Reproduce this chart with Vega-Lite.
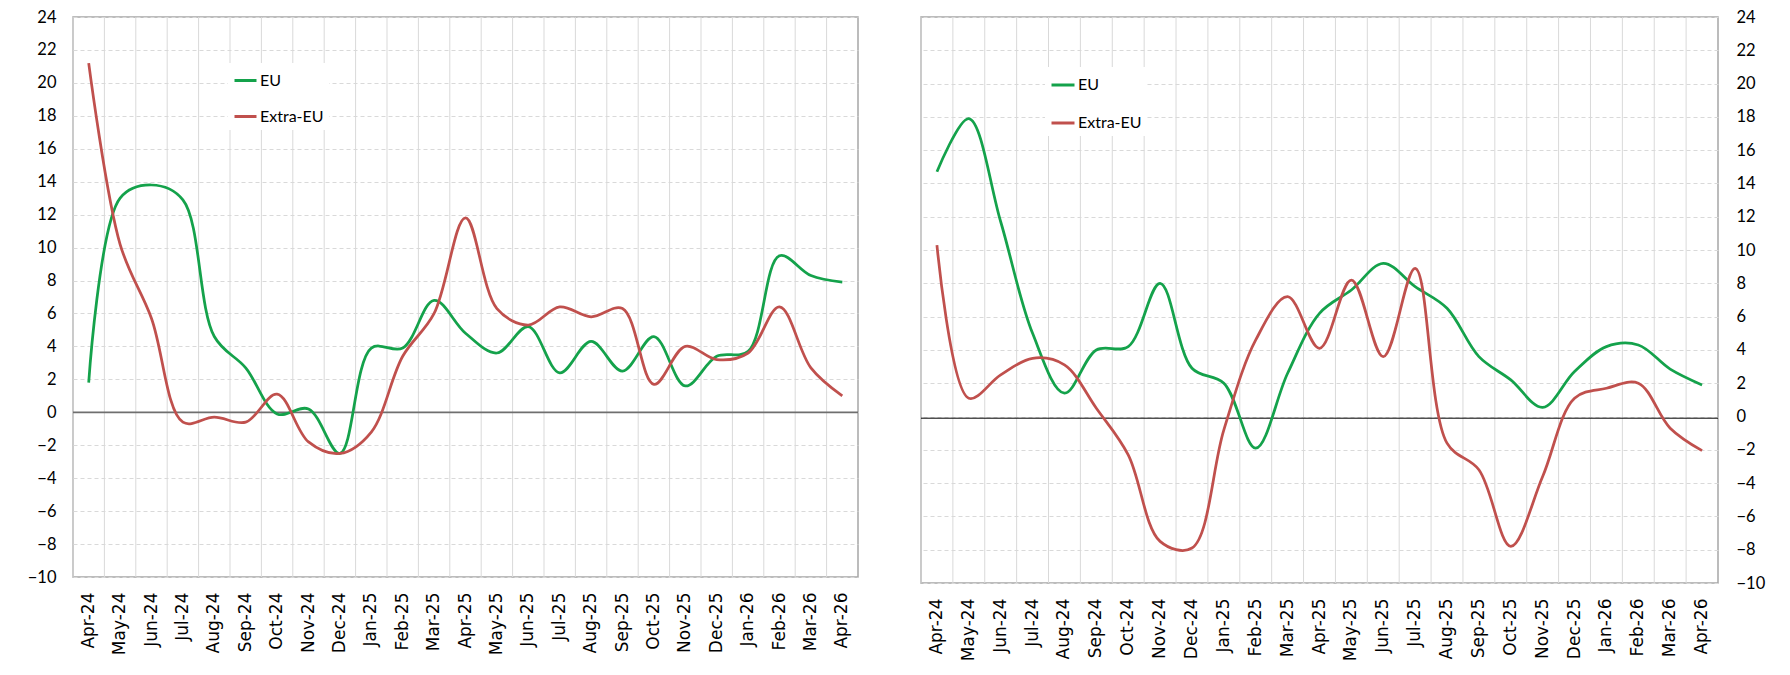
{
  "$schema": "https://vega.github.io/schema/vega-lite/v6.json",
  "background": "white",
  "padding": {"left": 26, "top": 8, "right": 0, "bottom": 0},
  "spacing": 59,
  "config": {
    "view": {"stroke": "#a6a6a6", "strokeWidth": 1.5},
    "axis": {"labelColor": "#000000", "title": null, "ticks": false, "domain": false, "labelOverlap": false},
    "legend": {"labelColor": "#000000"}
  },
  "datasets": {
    "left": [
      {"month": "Apr-24", "series": "EU", "value": 1.8}, {"month": "Apr-24", "series": "Extra-EU", "value": 21.2},
      {"month": "May-24", "series": "EU", "value": 13.0}, {"month": "May-24", "series": "Extra-EU", "value": 10.2},
      {"month": "Jun-24", "series": "EU", "value": 13.8}, {"month": "Jun-24", "series": "Extra-EU", "value": 5.7},
      {"month": "Jul-24", "series": "EU", "value": 12.9}, {"month": "Jul-24", "series": "Extra-EU", "value": -0.6},
      {"month": "Aug-24", "series": "EU", "value": 4.6}, {"month": "Aug-24", "series": "Extra-EU", "value": -0.3},
      {"month": "Sep-24", "series": "EU", "value": 2.7}, {"month": "Sep-24", "series": "Extra-EU", "value": -0.6},
      {"month": "Oct-24", "series": "EU", "value": -0.1}, {"month": "Oct-24", "series": "Extra-EU", "value": 1.1},
      {"month": "Nov-24", "series": "EU", "value": 0.2}, {"month": "Nov-24", "series": "Extra-EU", "value": -1.8},
      {"month": "Dec-24", "series": "EU", "value": -2.5}, {"month": "Dec-24", "series": "Extra-EU", "value": -2.5},
      {"month": "Jan-25", "series": "EU", "value": 3.9}, {"month": "Jan-25", "series": "Extra-EU", "value": -1.2},
      {"month": "Feb-25", "series": "EU", "value": 3.9}, {"month": "Feb-25", "series": "Extra-EU", "value": 3.4},
      {"month": "Mar-25", "series": "EU", "value": 6.8}, {"month": "Mar-25", "series": "Extra-EU", "value": 6.0},
      {"month": "Apr-25", "series": "EU", "value": 4.8}, {"month": "Apr-25", "series": "Extra-EU", "value": 11.8},
      {"month": "May-25", "series": "EU", "value": 3.6}, {"month": "May-25", "series": "Extra-EU", "value": 6.3},
      {"month": "Jun-25", "series": "EU", "value": 5.2}, {"month": "Jun-25", "series": "Extra-EU", "value": 5.3},
      {"month": "Jul-25", "series": "EU", "value": 2.4}, {"month": "Jul-25", "series": "Extra-EU", "value": 6.4},
      {"month": "Aug-25", "series": "EU", "value": 4.3}, {"month": "Aug-25", "series": "Extra-EU", "value": 5.8},
      {"month": "Sep-25", "series": "EU", "value": 2.5}, {"month": "Sep-25", "series": "Extra-EU", "value": 6.3},
      {"month": "Oct-25", "series": "EU", "value": 4.6}, {"month": "Oct-25", "series": "Extra-EU", "value": 1.7},
      {"month": "Nov-25", "series": "EU", "value": 1.6}, {"month": "Nov-25", "series": "Extra-EU", "value": 4.0},
      {"month": "Dec-25", "series": "EU", "value": 3.4}, {"month": "Dec-25", "series": "Extra-EU", "value": 3.2},
      {"month": "Jan-26", "series": "EU", "value": 3.7}, {"month": "Jan-26", "series": "Extra-EU", "value": 3.6},
      {"month": "Feb-26", "series": "EU", "value": 9.5}, {"month": "Feb-26", "series": "Extra-EU", "value": 6.4},
      {"month": "Mar-26", "series": "EU", "value": 8.3}, {"month": "Mar-26", "series": "Extra-EU", "value": 2.7},
      {"month": "Apr-26", "series": "EU", "value": 7.9}, {"month": "Apr-26", "series": "Extra-EU", "value": 1.0}
    ],
    "right": [
      {"month": "Apr-24", "series": "EU", "value": 14.7}, {"month": "Apr-24", "series": "Extra-EU", "value": 10.3},
      {"month": "May-24", "series": "EU", "value": 17.9}, {"month": "May-24", "series": "Extra-EU", "value": 1.1},
      {"month": "Jun-24", "series": "EU", "value": 11.7}, {"month": "Jun-24", "series": "Extra-EU", "value": 2.5},
      {"month": "Jul-24", "series": "EU", "value": 5.0}, {"month": "Jul-24", "series": "Extra-EU", "value": 3.5},
      {"month": "Aug-24", "series": "EU", "value": 1.4}, {"month": "Aug-24", "series": "Extra-EU", "value": 3.1},
      {"month": "Sep-24", "series": "EU", "value": 4.0}, {"month": "Sep-24", "series": "Extra-EU", "value": 0.5},
      {"month": "Oct-24", "series": "EU", "value": 4.2}, {"month": "Oct-24", "series": "Extra-EU", "value": -2.3},
      {"month": "Nov-24", "series": "EU", "value": 8.0}, {"month": "Nov-24", "series": "Extra-EU", "value": -7.5},
      {"month": "Dec-24", "series": "EU", "value": 2.9}, {"month": "Dec-24", "series": "Extra-EU", "value": -7.9},
      {"month": "Jan-25", "series": "EU", "value": 2.0}, {"month": "Jan-25", "series": "Extra-EU", "value": -0.8},
      {"month": "Feb-25", "series": "EU", "value": -1.9}, {"month": "Feb-25", "series": "Extra-EU", "value": 4.6},
      {"month": "Mar-25", "series": "EU", "value": 2.6}, {"month": "Mar-25", "series": "Extra-EU", "value": 7.2},
      {"month": "Apr-25", "series": "EU", "value": 6.2}, {"month": "Apr-25", "series": "Extra-EU", "value": 4.1},
      {"month": "May-25", "series": "EU", "value": 7.6}, {"month": "May-25", "series": "Extra-EU", "value": 8.2},
      {"month": "Jun-25", "series": "EU", "value": 9.2}, {"month": "Jun-25", "series": "Extra-EU", "value": 3.6},
      {"month": "Jul-25", "series": "EU", "value": 7.8}, {"month": "Jul-25", "series": "Extra-EU", "value": 8.9},
      {"month": "Aug-25", "series": "EU", "value": 6.5}, {"month": "Aug-25", "series": "Extra-EU", "value": -1.6},
      {"month": "Sep-25", "series": "EU", "value": 3.6}, {"month": "Sep-25", "series": "Extra-EU", "value": -3.2},
      {"month": "Oct-25", "series": "EU", "value": 2.2}, {"month": "Oct-25", "series": "Extra-EU", "value": -7.8},
      {"month": "Nov-25", "series": "EU", "value": 0.55}, {"month": "Nov-25", "series": "Extra-EU", "value": -3.6},
      {"month": "Dec-25", "series": "EU", "value": 2.7}, {"month": "Dec-25", "series": "Extra-EU", "value": 1.1},
      {"month": "Jan-26", "series": "EU", "value": 4.2}, {"month": "Jan-26", "series": "Extra-EU", "value": 1.7},
      {"month": "Feb-26", "series": "EU", "value": 4.3}, {"month": "Feb-26", "series": "Extra-EU", "value": 2.0},
      {"month": "Mar-26", "series": "EU", "value": 2.85}, {"month": "Mar-26", "series": "Extra-EU", "value": -0.7},
      {"month": "Apr-26", "series": "EU", "value": 1.9}, {"month": "Apr-26", "series": "Extra-EU", "value": -2.05}
    ]
  },
  "resolve": {"scale": {"color": "independent"}, "legend": {"color": "independent"}},
  "hconcat": [
    {
      "width": 785,
      "height": 560,
      "layer": [
        {
          "data": {"name": "left"},
          "transform": [{"filter": "datum.series === 'EU'"}],
          "mark": {"type": "rule", "color": "#d9d9d9", "strokeWidth": 1},
          "encoding": {
            "x": {"field": "month", "type": "ordinal", "bandPosition": 0,
              "scale": {"type": "band", "paddingInner": 0, "paddingOuter": 0,
                "domain": ["Apr-24","May-24","Jun-24","Jul-24","Aug-24","Sep-24","Oct-24","Nov-24","Dec-24","Jan-25","Feb-25","Mar-25","Apr-25","May-25","Jun-25","Jul-25","Aug-25","Sep-25","Oct-25","Nov-25","Dec-25","Jan-26","Feb-26","Mar-26","Apr-26"]},
              "axis": {"labelAngle": -90, "labelPadding": 15, "labelFont": "DejaVu Sans", "labelFontSize": 17, "grid": false}}
          }
        },
        {
          "data": {"values": [{}]},
          "mark": {"type": "rule", "color": "#6f6f6f", "strokeWidth": 1.75},
          "encoding": {"y": {"datum": 0, "type": "quantitative",
            "scale": {"domain": [-10, 24], "nice": false, "zero": false},
            "axis": {"values": [-10,-8,-6,-4,-2,0,2,4,6,8,10,12,14,16,18,20,22,24], "labelOverlap": false, "labelFlush": false, "labelPadding": 17, "labelFont": "Lato", "labelFontSize": 16.5, "grid": true, "gridColor": "#d9d9d9", "gridDash": [4, 3], "gridWidth": 1}}}
        },
        {
          "data": {"name": "left"},
          "mark": {"type": "line", "interpolate": "catmull-rom", "strokeWidth": 2.75},
          "encoding": {
            "x": {"field": "month", "type": "ordinal"},
            "y": {"field": "value", "type": "quantitative",
              "axis": {"values": [-10,-8,-6,-4,-2,0,2,4,6,8,10,12,14,16,18,20,22,24], "labelOverlap": false, "labelFlush": false, "labelPadding": 17, "labelFont": "Lato", "labelFontSize": 16.5, "grid": true, "gridColor": "#d9d9d9", "gridDash": [4, 3], "gridWidth": 1}},
            "color": {"field": "series", "type": "nominal",
              "scale": {"domain": ["EU", "Extra-EU"], "range": ["#14a24b", "#c0504d"]},
              "legend": {"orient": "none", "legendX": 155, "legendY": 46, "title": null, "symbolType": "stroke", "symbolSize": 484, "symbolStrokeWidth": 3, "labelFont": "Lato", "labelFontSize": 16, "labelOffset": 2, "rowPadding": 15, "padding": 5, "fillColor": "white"}}
          }
        }
      ]
    },
    {
      "width": 797,
      "height": 566,
      "layer": [
        {
          "data": {"name": "right"},
          "transform": [{"filter": "datum.series === 'EU'"}],
          "mark": {"type": "rule", "color": "#d9d9d9", "strokeWidth": 1},
          "encoding": {
            "x": {"field": "month", "type": "ordinal", "bandPosition": 0,
              "scale": {"type": "band", "paddingInner": 0, "paddingOuter": 0,
                "domain": ["Apr-24","May-24","Jun-24","Jul-24","Aug-24","Sep-24","Oct-24","Nov-24","Dec-24","Jan-25","Feb-25","Mar-25","Apr-25","May-25","Jun-25","Jul-25","Aug-25","Sep-25","Oct-25","Nov-25","Dec-25","Jan-26","Feb-26","Mar-26","Apr-26"]},
              "axis": {"labelAngle": -90, "labelPadding": 15, "labelFont": "DejaVu Sans", "labelFontSize": 17, "grid": false}}
          }
        },
        {
          "data": {"values": [{}]},
          "mark": {"type": "rule", "color": "#000000", "strokeWidth": 1},
          "encoding": {"y": {"datum": -0.1, "type": "quantitative",
            "scale": {"domain": [-10, 24], "nice": false, "zero": false},
            "axis": {"orient": "right", "values": [-10,-8,-6,-4,-2,0,2,4,6,8,10,12,14,16,18,20,22,24], "labelOverlap": false, "labelFlush": false, "labelPadding": 18, "labelFont": "Lato", "labelFontSize": 16.5, "grid": true, "gridColor": "#d9d9d9", "gridDash": [4, 3], "gridWidth": 1}}}
        },
        {
          "data": {"name": "right"},
          "mark": {"type": "line", "interpolate": "catmull-rom", "strokeWidth": 2.75},
          "encoding": {
            "x": {"field": "month", "type": "ordinal"},
            "y": {"field": "value", "type": "quantitative",
              "axis": {"orient": "right", "values": [-10,-8,-6,-4,-2,0,2,4,6,8,10,12,14,16,18,20,22,24], "labelOverlap": false, "labelFlush": false, "labelPadding": 18, "labelFont": "Lato", "labelFontSize": 16.5, "grid": true, "gridColor": "#d9d9d9", "gridDash": [4, 3], "gridWidth": 1}},
            "color": {"field": "series", "type": "nominal",
              "scale": {"domain": ["EU", "Extra-EU"], "range": ["#14a24b", "#c0504d"]},
              "legend": {"orient": "none", "legendX": 124, "legendY": 50, "title": null, "symbolType": "stroke", "symbolSize": 529, "symbolStrokeWidth": 3, "labelFont": "Lato", "labelFontSize": 16, "labelOffset": 2, "rowPadding": 17, "padding": 5, "fillColor": "white"}}
          }
        }
      ]
    }
  ]
}
